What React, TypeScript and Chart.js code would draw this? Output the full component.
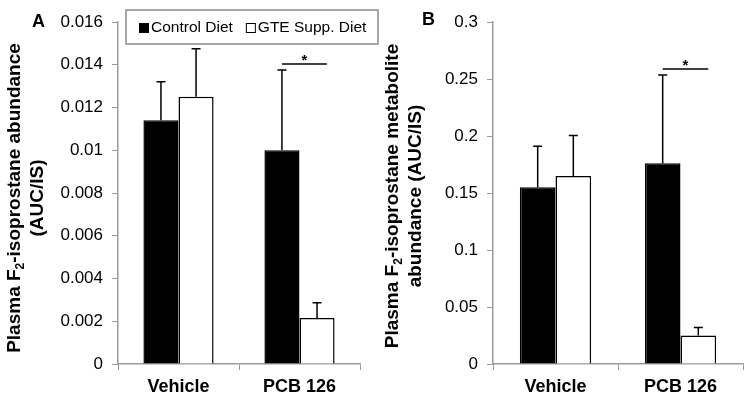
import React, { useEffect, useRef } from 'react';
import { Chart, registerables } from 'chart.js';

Chart.register(...registerables);

// ---------- data ----------
const categories = ['Vehicle', 'PCB 126'];
const seriesNames = ['Control Diet', 'GTE Supp. Diet'];

// Panel A: Plasma F2-isoprostane abundance (AUC/IS)
const controlA = [0.0114, 0.01];
const controlErrA = [0.0018, 0.00375];
const gteA = [0.0125, 0.00215];
const gteErrA = [0.00225, 0.00072];
const sigA: (number | null)[] = [null, 0.01404];
const yTicksA = ['0', '0.002', '0.004', '0.006', '0.008', '0.01', '0.012', '0.014', '0.016'];

// Panel B: Plasma F2-isoprostane metabolite abundance (AUC/IS)
const controlB = [0.155, 0.176];
const controlErrB = [0.036, 0.0775];
const gteB = [0.165, 0.025];
const gteErrB = [0.0355, 0.007];
const sigB: (number | null)[] = [null, 0.2588];
const yTicksB = ['0', '0.05', '0.1', '0.15', '0.2', '0.25', '0.3'];

const FONT = "'Liberation Sans', Arial, Helvetica, sans-serif";
const AXIS_GRAY = '#9a9a9a';

type Seg = { t: string; sub?: boolean };

interface PanelCfg {
  width: number;
  height: number;
  areaLeft: number;
  areaRight: number;
  control: number[];
  controlErr: number[];
  gte: number[];
  gteErr: number[];
  sig: (number | null)[];
  yTicks: string[];
  yMax: number;
  yStep: number;
  catPct: number;
  letter: string;
  letterX: number;
  letterY: number;
  titleLines: Seg[][];
  titleXs: number[];
  titleY: number;
  legend: boolean;
}

function drawRotatedSegs(ctx: CanvasRenderingContext2D, segs: Seg[], cx: number, cy: number, size: number) {
  const subSize = Math.round(size * 0.62);
  ctx.save();
  ctx.translate(cx, cy);
  ctx.rotate(-Math.PI / 2);
  ctx.fillStyle = '#000';
  ctx.textBaseline = 'middle';
  ctx.textAlign = 'left';
  let total = 0;
  const widths = segs.map((s) => {
    ctx.font = `bold ${s.sub ? subSize : size}px ${FONT}`;
    const w = ctx.measureText(s.t).width;
    total += w;
    return w;
  });
  let x = -total / 2;
  segs.forEach((s, i) => {
    ctx.font = `bold ${s.sub ? subSize : size}px ${FONT}`;
    ctx.fillText(s.t, x, s.sub ? size * 0.28 : 0);
    x += widths[i];
  });
  ctx.restore();
}

function makeChart(canvas: HTMLCanvasElement, cfg: PanelCfg) {
  const errs = [cfg.controlErr, cfg.gteErr];
  const overlay = {
    id: 'overlay',
    afterDatasetsDraw(chart: any) {
      const ctx: CanvasRenderingContext2D = chart.ctx;
      const ys = chart.scales.y;
      ctx.save();
      ctx.strokeStyle = '#000';
      ctx.lineWidth = 1.5;
      errs.forEach((arr, di) => {
        const meta = chart.getDatasetMeta(di);
        meta.data.forEach((bar: any, i: number) => {
          const v = chart.data.datasets[di].data[i] as number;
          const top = ys.getPixelForValue(v + arr[i]);
          const x = bar.x;
          ctx.beginPath();
          ctx.moveTo(x, bar.y);
          ctx.lineTo(x, top);
          ctx.moveTo(x - 4.5, top);
          ctx.lineTo(x + 4.5, top);
          ctx.stroke();
        });
      });
      // significance brackets
      const m0 = chart.getDatasetMeta(0);
      const m1 = chart.getDatasetMeta(1);
      cfg.sig.forEach((s, i) => {
        if (s == null) return;
        const x1 = m0.data[i].x;
        const x2 = m1.data[i].x + m1.data[i].width * 0.28;
        const y = ys.getPixelForValue(s);
        ctx.beginPath();
        ctx.moveTo(x1, y);
        ctx.lineTo(x2, y);
        ctx.stroke();
        ctx.fillStyle = '#000';
        ctx.font = `bold 15px ${FONT}`;
        ctx.textAlign = 'center';
        ctx.textBaseline = 'alphabetic';
        ctx.fillText('*', (x1 + x2) / 2, y + 1);
      });
      ctx.restore();
    },
    afterDraw(chart: any) {
      const ctx: CanvasRenderingContext2D = chart.ctx;
      ctx.save();
      // panel letter
      ctx.fillStyle = '#000';
      ctx.font = `bold 18px ${FONT}`;
      ctx.textAlign = 'left';
      ctx.textBaseline = 'middle';
      ctx.fillText(cfg.letter, cfg.letterX, cfg.letterY);
      // y-axis title
      cfg.titleLines.forEach((line, li) => {
        drawRotatedSegs(ctx, line, cfg.titleXs[li], cfg.titleY, 19);
      });
      // legend
      if (cfg.legend) {
        const bx = 126, by = 10, bw = 252, bh = 34;
        ctx.strokeStyle = '#8a8a8a';
        ctx.lineWidth = 1.5;
        ctx.fillStyle = '#fff';
        ctx.fillRect(bx, by, bw, bh);
        ctx.strokeRect(bx, by, bw, bh);
        ctx.font = `15.5px ${FONT}`;
        ctx.textBaseline = 'middle';
        let x = 139;
        const cy = by + bh / 2 + 1;
        seriesNames.forEach((name, i) => {
          ctx.lineWidth = 1;
          if (i === 0) {
            ctx.fillStyle = '#000';
            ctx.fillRect(x, cy - 5, 10, 10);
          } else {
            ctx.fillStyle = '#fff';
            ctx.fillRect(x, cy - 5, 10, 10);
            ctx.strokeStyle = '#000';
            ctx.strokeRect(x + 0.5, cy - 4.5, 9, 9);
          }
          x += 12;
          ctx.fillStyle = '#000';
          ctx.fillText(name, x, cy);
          x += ctx.measureText(name).width + 13;
        });
      }
      ctx.restore();
    },
  };

  return new Chart(canvas, {
    type: 'bar',
    data: {
      labels: categories,
      datasets: [
        {
          label: seriesNames[0],
          data: cfg.control,
          backgroundColor: '#000',
          borderColor: '#000',
          borderWidth: 1.5,
          categoryPercentage: cfg.catPct,
          barPercentage: 1,
        },
        {
          label: seriesNames[1],
          data: cfg.gte,
          backgroundColor: '#fff',
          borderColor: '#000',
          borderWidth: 1.5,
          categoryPercentage: cfg.catPct,
          barPercentage: 1,
        },
      ],
    },
    options: {
      responsive: false,
      animation: false,
      devicePixelRatio: 1,
      layout: {
        autoPadding: false,
        padding: { left: 0, top: 22, right: cfg.width - cfg.areaRight, bottom: 0 },
      },
      plugins: {
        legend: { display: false },
        tooltip: { enabled: false },
        title: { display: false },
      },
      scales: {
        x: {
          afterFit(scale: any) {
            scale.height = cfg.height - 364;
          },
          grid: {
            display: true,
            offset: true,
            drawOnChartArea: false,
            drawTicks: true,
            tickLength: 6,
            color: AXIS_GRAY,
            lineWidth: 1,
          },
          border: { display: true, color: AXIS_GRAY, width: 1.5 },
          ticks: {
            color: '#000',
            font: { family: FONT, size: 18, weight: 'bold' },
            padding: 6,
          },
        },
        y: {
          min: 0,
          max: cfg.yMax,
          afterFit(scale: any) {
            scale.width = cfg.areaLeft;
          },
          grid: {
            display: true,
            drawOnChartArea: false,
            drawTicks: true,
            tickLength: 6,
            color: AXIS_GRAY,
            lineWidth: 1,
          },
          border: { display: true, color: AXIS_GRAY, width: 1.5 },
          ticks: {
            stepSize: cfg.yStep,
            color: '#000',
            font: { family: FONT, size: 17 },
            padding: 9,
            callback: (_v: any, idx: number) => cfg.yTicks[idx],
          },
        },
      },
    },
    plugins: [overlay],
  } as any);
}

function Panel({ cfg, left }: { cfg: PanelCfg; left: number }) {
  const ref = useRef<HTMLCanvasElement>(null);
  useEffect(() => {
    if (!ref.current) return;
    const chart = makeChart(ref.current, cfg);
    return () => chart.destroy();
  }, []);
  return (
    <canvas
      ref={ref}
      width={cfg.width}
      height={cfg.height}
      style={{ position: 'absolute', left, top: 0, width: cfg.width, height: cfg.height }}
    />
  );
}

const panelA: PanelCfg = {
  width: 392,
  height: 403,
  areaLeft: 118,
  areaRight: 360,
  control: controlA,
  controlErr: controlErrA,
  gte: gteA,
  gteErr: gteErrA,
  sig: sigA,
  yTicks: yTicksA,
  yMax: 0.016,
  yStep: 0.002,
  catPct: 0.58,
  letter: 'A',
  letterX: 32,
  letterY: 22,
  titleLines: [
    [{ t: 'Plasma F' }, { t: '2', sub: true }, { t: '-isoprostane abundance' }],
    [{ t: '(AUC/IS)' }],
  ],
  titleXs: [15, 38],
  titleY: 198,
  legend: true,
};

const panelB: PanelCfg = {
  width: 376,
  height: 403,
  areaLeft: 117,
  areaRight: 367,
  control: controlB,
  controlErr: controlErrB,
  gte: gteB,
  gteErr: gteErrB,
  sig: sigB,
  yTicks: yTicksB,
  yMax: 0.3,
  yStep: 0.05,
  catPct: 0.57,
  letter: 'B',
  letterX: 46,
  letterY: 20,
  titleLines: [
    [{ t: 'Plasma F' }, { t: '2', sub: true }, { t: '-isoprostane metabolite' }],
    [{ t: 'abundance (AUC/IS)' }],
  ],
  titleXs: [17, 40],
  titleY: 196,
  legend: false,
};

export default function App() {
  return (
    <div style={{ position: 'absolute', left: 0, top: 0, width: 752, height: 403, background: '#fff', overflow: 'hidden' }}>
      <Panel cfg={panelA} left={0} />
      <Panel cfg={panelB} left={376} />
    </div>
  );
}
